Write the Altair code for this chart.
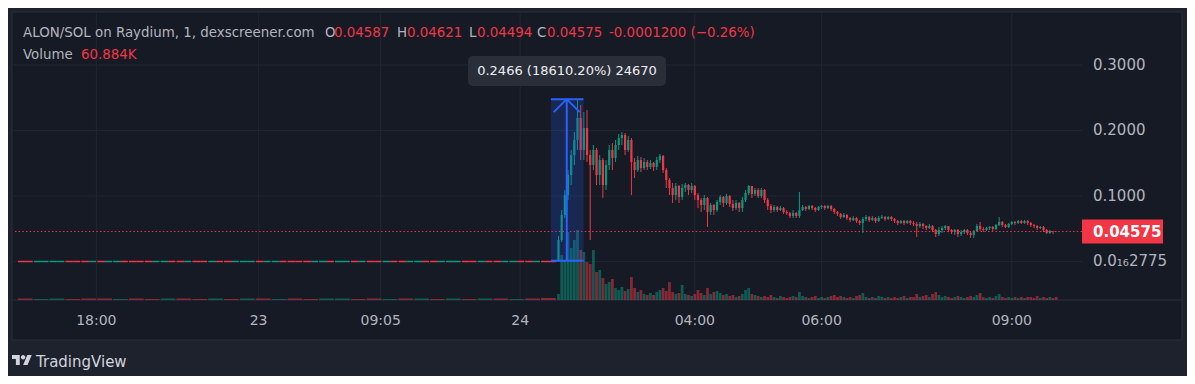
import altair as alt
import pandas as pd

# ---------------- colours ----------------
OUTER = "#1e222d"
PANEL = "#161a25"
BORDER = "#2a2e39"
GRID = "#222631"
TEXT = "#b2b5be"
UP = "#089981"
DOWN = "#f23645"
BLUE = "#2962ff"
FONT = "DejaVu Sans"

# ---------------- data ----------------
# 3-minute bars after launch, slot index starts at 170; prices in units of 0.0001 SOL
slot_start = 170
close_e4 = [
    328, 710, 1015, 1321, 1626, 1855, 2191, 1702, 2038, 1626,
    1473, 1702, 1321, 1550, 1168, 1473, 1702, 1580, 1779, 1885,
    1931, 1702, 1855, 1519, 1397, 1550, 1427, 1519, 1443, 1504,
    1443, 1550, 1611, 1397, 1244, 1122, 1015, 1153, 985, 1122,
    1168, 1092, 1153, 1015, 939, 863, 969, 756, 863, 786,
    908, 985, 893, 1000, 878, 817, 893, 817, 939, 1046,
    1153, 1031, 1092, 1000, 1092, 939, 847, 786, 832, 786,
    817, 756, 740, 695, 740, 695, 786, 832, 802, 847,
    817, 786, 832, 847, 817, 847, 802, 756, 725, 679,
    710, 664, 634, 664, 618, 588, 649, 679, 634, 664,
    618, 664, 679, 649, 679, 649, 618, 588, 618, 588,
    618, 588, 573, 542, 573, 542, 511, 542, 481, 420,
    481, 511, 542, 481, 450, 481, 420, 450, 481, 435,
    405, 466, 542, 496, 481, 511, 527, 496, 557, 603,
    557, 527, 573, 603, 588, 618, 588, 618, 588, 557,
    542, 511, 527, 481, 435, 466, 458.7, 457.5,
]
high_e4 = [
    389, 786, 1092, 1397, 1702, 1977, 2466, 2389, 2282, 2313,
    1702, 1779, 1733, 1626, 1580, 1550, 1779, 1809, 1855, 1947,
    1977, 1962, 1916, 1885, 1580, 1611, 1595, 1580, 1550, 1550,
    1519, 1595, 1641, 1626, 1427, 1275, 1198, 1198, 1168, 1183,
    1198, 1183, 1198, 1168, 1046, 969, 1015, 985, 893, 878,
    939, 1015, 1000, 1031, 1015, 939, 939, 908, 985, 1092,
    1168, 1153, 1122, 1122, 1122, 1107, 969, 878, 863, 847,
    847, 832, 786, 756, 786, 756, 1061, 863, 847, 863,
    863, 832, 847, 863, 863, 863, 863, 817, 771, 740,
    740, 725, 679, 695, 679, 634, 679, 710, 695, 695,
    679, 695, 710, 695, 695, 695, 664, 634, 634, 634,
    634, 634, 618, 603, 603, 588, 557, 573, 557, 496,
    527, 542, 557, 542, 496, 496, 496, 481, 496, 496,
    450, 481, 573, 603, 527, 527, 542, 542, 573, 679,
    618, 573, 588, 618, 618, 634, 634, 634, 634, 603,
    573, 557, 542, 542, 496, 481, 466, 462.1,
]
low_e4 = [
    0, 298, 664, 939, 1168, 1473, 1702, 1550, 1550, 1519,
    328, 1397, 1168, 1168, 969, 1092, 1397, 1397, 1519, 1702,
    1779, 1626, 1672, 1015, 1275, 1366, 1366, 1397, 1397, 1412,
    1382, 1397, 1504, 1351, 1122, 1015, 893, 939, 893, 939,
    1061, 1015, 1046, 939, 817, 756, 786, 527, 710, 710,
    756, 863, 832, 863, 832, 771, 786, 756, 756, 908,
    1015, 969, 1000, 969, 969, 893, 786, 740, 756, 756,
    771, 725, 710, 664, 664, 664, 664, 771, 771, 786,
    786, 756, 771, 802, 786, 802, 771, 725, 695, 649,
    664, 634, 603, 618, 588, 557, 435, 618, 603, 618,
    588, 603, 649, 618, 634, 618, 588, 557, 573, 557,
    573, 557, 542, 374, 511, 496, 481, 496, 450, 374,
    389, 435, 481, 450, 420, 405, 374, 389, 420, 405,
    359, 359, 450, 466, 450, 466, 481, 466, 481, 542,
    527, 511, 511, 557, 557, 573, 573, 573, 557, 527,
    511, 481, 496, 450, 420, 420, 420, 449.4,
]
volume_k = [
    120, 900, 800, 1360, 1040, 1200, 1400, 1000, 960, 760,
    720, 1000, 560, 600, 440, 320, 360, 420, 240, 200,
    260, 180, 220, 460, 240, 160, 200, 120, 100, 140,
    100, 160, 200, 240, 180, 360, 160, 120, 140, 300,
    120, 100, 80, 120, 200, 140, 100, 240, 120, 160,
    180, 140, 100, 120, 80, 100, 60, 80, 120, 200,
    240, 120, 100, 80, 60, 80, 60, 100, 60, 40,
    80, 60, 40, 60, 80, 60, 160, 80, 60, 40,
    60, 80, 40, 60, 40, 60, 80, 100, 60, 80,
    60, 40, 60, 40, 80, 100, 140, 60, 40, 60,
    40, 80, 60, 40, 60, 40, 60, 40, 60, 80,
    40, 60, 60, 120, 60, 80, 100, 60, 120, 160,
    100, 60, 80, 60, 40, 60, 80, 60, 40, 60,
    80, 60, 100, 140, 60, 40, 60, 40, 80, 120,
    60, 40, 60, 40, 60, 40, 60, 40, 60, 60,
    40, 80, 40, 60, 40, 60, 40, 60.884,
]

# sparse pre-launch trading: 34 groups of 5 slots, two halves each (G = up, R = down)
pre_price = 2.775e-17
pre_colors = ["RR", "GG", "GG", "RR", "RG", "RG", "GR", "RR", "RG", "GR", "RG", "RR",
              "GR", "RG", "GG", "RG", "GR", "RR", "RG", "GR", "GG", "RG", "RR", "GR",
              "RG", "GR", "RG", "GG", "RR", "GR", "RG", "GR", "RG", "RR"]
pre_volume_k = [30, 20, 30, 20, 30, 30, 20, 30, 20, 30, 30, 20, 30, 20, 30, 30, 20,
                30, 20, 30, 30, 20, 30, 20, 30, 30, 20, 30, 20, 30, 30, 20, 30, 40]

time_labels = ["18:00", "23", "09:05", "24", "04:00", "06:00", "09:00"]
time_slots = [24.2, 75.4, 113.9, 157.9, 213, 253, 313]

price_ticks = [0.3, 0.2, 0.1, 2.775e-17]
price_tick_labels = ["0.3000", "0.2000", "0.1000", "0.0\u2081\u20862775"]

pair_name = "ALON/SOL on Raydium, 1, dexscreener.com"
change_text = "-0.0001200 (\u22120.26%)"
volume_text = "60.884K"

measure_from, measure_to = 0.001325, 0.2479
measure_slots = [167.6, 177.9]
measure_arrow_slot = 172.6
measure_text = "0.2466 (18610.20%) 24670"

# ---------------- tables ----------------
close = [c / 1e4 for c in close_e4]
opens = [pre_price] + close[:-1]
bars = pd.DataFrame({
    "t": list(range(slot_start, slot_start + len(close))),
    "open": opens,
    "close": close,
    "high": [h / 1e4 for h in high_e4],
    "low": [l / 1e4 for l in low_e4],
    "vol": volume_k,
})
bars["dir"] = ["up" if c >= o else "down" for o, c in zip(bars["open"], bars["close"])]

pre_rows, pre_vol_rows = [], []
for i, pair in enumerate(pre_colors):
    s0 = -0.5 + 5 * i
    for h in range(2):
        s = s0 + 2.5 * h
        e = s + 2.5 - (0.35 if h == 1 else 0.0)
        pre_rows.append({"s": s, "e": e, "p": pre_price, "dir": "up" if pair[h] == "G" else "down"})
    pre_vol_rows.append({"s": s0, "e": s0 + 4.65, "vol": pre_volume_k[i], "zero": 0,
                         "dir": "up" if pair[0] == "G" else "down"})
pre = pd.DataFrame(pre_rows)
pre_vol = pd.DataFrame(pre_vol_rows)

last = bars.iloc[-1]
last_price = float(last["close"])

# ---------------- scales ----------------
W, H = 1069, 287
xs = alt.Scale(domain=[-0.5, 333.56], nice=False, zero=False)
ps = alt.Scale(domain=[-0.05878, 0.37939], nice=False, zero=False)
vs = alt.Scale(domain=[0, 5740], nice=False, zero=False)
cs = alt.Scale(domain=["up", "down"], range=[UP, DOWN])
one = pd.DataFrame({"k": [0]})


def X(f):
    return alt.X(f, type="quantitative", scale=xs, axis=None)


def P(f):
    return alt.Y(f, type="quantitative", scale=ps, axis=None)


def C():
    return alt.Color("dir:N", scale=cs, legend=None)


def label(text, x, y, color=TEXT, size=13.4, align="left", weight="normal"):
    return alt.Chart(one).mark_text(text=text, align=align, baseline="middle", font=FONT,
                                    fontSize=size, color=color, fontWeight=weight).encode(
        x=alt.value(x), y=alt.value(y))


layers = []
# panel background
layers.append(alt.Chart(one).mark_rect(fill=PANEL, stroke=BORDER, strokeWidth=1).encode(
    x=alt.value(-1), x2=alt.value(1169), y=alt.value(-1), y2=alt.value(327)))
# gridlines
grid_p = pd.DataFrame({"p": price_ticks, "lab": price_tick_labels})
layers.append(alt.Chart(grid_p).mark_rule(color=GRID, strokeWidth=1).encode(y=P("p")))
grid_t = pd.DataFrame({"t": time_slots, "lab": time_labels})
layers.append(alt.Chart(grid_t).mark_rule(color=GRID, strokeWidth=1).encode(
    x=X("t"), y=alt.value(0), y2=alt.value(H)))
# time-axis separator
layers.append(alt.Chart(one).mark_rule(color=BORDER, strokeWidth=1).encode(
    x=alt.value(-1), x2=alt.value(1169), y=alt.value(H)))
# volume
layers.append(alt.Chart(pre_vol).mark_rect(opacity=0.5).encode(
    x=X("s"), x2="e", y=alt.Y("vol:Q", scale=vs, axis=None), y2="zero", color=C()))
layers.append(alt.Chart(bars).mark_bar(size=2.8, opacity=0.5).encode(
    x=X("t"), y=alt.Y("vol:Q", scale=vs, axis=None, stack=None), color=C()))
# pre-launch flat price
layers.append(alt.Chart(pre).mark_rule(strokeWidth=1.5).encode(x=X("s"), x2="e", y=P("p"), color=C()))
# candles
layers.append(alt.Chart(bars).mark_rule(strokeWidth=1).encode(x=X("t"), y=P("low"), y2="high", color=C()))
layers.append(alt.Chart(bars).mark_bar(size=2.2).encode(x=X("t"), y=P("open"), y2="close", color=C()))
# last price dotted line
lastdf = pd.DataFrame({"p": [last_price], "lab": [f"{last_price:.5f}"]})
layers.append(alt.Chart(lastdf).mark_rule(color=DOWN, strokeWidth=1, strokeDash=[1.5, 2.2]).encode(y=P("p")))

# measure tool
mdf = pd.DataFrame({"s": [measure_slots[0]], "e": [measure_slots[1]], "a": [measure_from],
                    "b": [measure_to], "m": [measure_arrow_slot],
                    "ml": [measure_arrow_slot - 4.1], "mr": [measure_arrow_slot + 4.1],
                    "bh": [measure_to - 0.0198]})
layers.append(alt.Chart(mdf).mark_rect(fill=BLUE, opacity=0.2).encode(x=X("s"), x2="e", y=P("a"), y2="b"))
layers.append(alt.Chart(mdf).mark_rule(color=BLUE, strokeWidth=2).encode(x=X("s"), x2="e", y=P("a")))
layers.append(alt.Chart(mdf).mark_rule(color=BLUE, strokeWidth=2).encode(x=X("s"), x2="e", y=P("b")))
layers.append(alt.Chart(mdf).mark_rule(color=BLUE, strokeWidth=2).encode(x=X("m"), y=P("a"), y2="b"))
layers.append(alt.Chart(mdf).mark_rule(color=BLUE, strokeWidth=2).encode(x=X("ml"), x2="m", y=P("bh"), y2="b"))
layers.append(alt.Chart(mdf).mark_rule(color=BLUE, strokeWidth=2).encode(x=X("mr"), x2="m", y=P("bh"), y2="b"))

# price scale labels
layers.append(alt.Chart(grid_p).mark_text(align="left", baseline="middle", font=FONT, fontSize=15,
                                          color=TEXT).encode(x=alt.value(1080), y=P("p"), text="lab:N"))
layers.append(alt.Chart(lastdf).mark_point(shape="M-1,-0.2963L1,-0.2963L1,0.2963L-1,0.2963Z", size=6561,
                                           filled=True, fill=DOWN, opacity=1, strokeWidth=0).encode(
    x=alt.value(1109.5), y=P("p")))
layers.append(alt.Chart(lastdf).mark_text(align="left", baseline="middle", font=FONT, fontSize=15,
                                          fontWeight="bold", color="#ffffff").encode(
    x=alt.value(1080), y=P("p"), text="lab:N"))
# time labels
layers.append(alt.Chart(grid_t).mark_text(align="center", baseline="middle", font=FONT, fontSize=14,
                                          color=TEXT).encode(x=X("t"), y=alt.value(308), text="lab:N"))

# legend header
o, hh, ll, cc = float(last["open"]), float(last["high"]), float(last["low"]), float(last["close"])
layers += [
    label(pair_name, 10, 20),
    label("O", 312, 20), label(f"{o:.5f}", 321, 20, DOWN),
    label("H", 384, 20), label(f"{hh:.5f}", 394, 20, DOWN),
    label("L", 456, 20), label(f"{ll:.5f}", 464, 20, DOWN),
    label("C", 524, 20), label(f"{cc:.5f}", 534, 20, DOWN),
    label(change_text, 596, 20, DOWN),
    label("Volume", 10, 42), label(volume_text, 68, 42, DOWN),
]
# measurement tooltip
layers.append(alt.Chart(one).mark_rect(fill="#2a2e39", cornerRadius=5).encode(
    x=alt.value(455), x2=alt.value(653), y=alt.value(43), y2=alt.value(73)))
layers.append(label(measure_text, 554, 58, "#eceef2", 13, "center"))

# TradingView brand
logo = ("M-0.222,0.444L-0.611,0.444L-0.611,-0.167L-1,-0.167L-1,-0.556L-0.222,-0.556Z"
        "M0.556,0.444L0.111,0.444L0.528,-0.556L0.972,-0.556Z"
        "M-0.111,-0.333a0.222,0.222 0 1,0 0.444,0a0.222,0.222 0 1,0 -0.444,0Z")
layers.append(alt.Chart(one).mark_point(shape=logo, size=400, filled=True, fill="#d1d4dc",
                                        opacity=1, strokeWidth=0).encode(
    x=alt.value(9), y=alt.value(347.6)))
layers.append(label("TradingView", 23, 349, "#d1d4dc", 15))

chart = alt.layer(*layers).resolve_scale(y="independent").properties(
    width=W, height=H,
    padding={"left": 5, "top": 5, "right": 105, "bottom": 76},
    autosize=alt.AutoSizeParams(type="none"),
    background=OUTER,
).configure_view(stroke=None)

chart.save("out.html", embed_options={"renderer": "svg", "actions": False})
